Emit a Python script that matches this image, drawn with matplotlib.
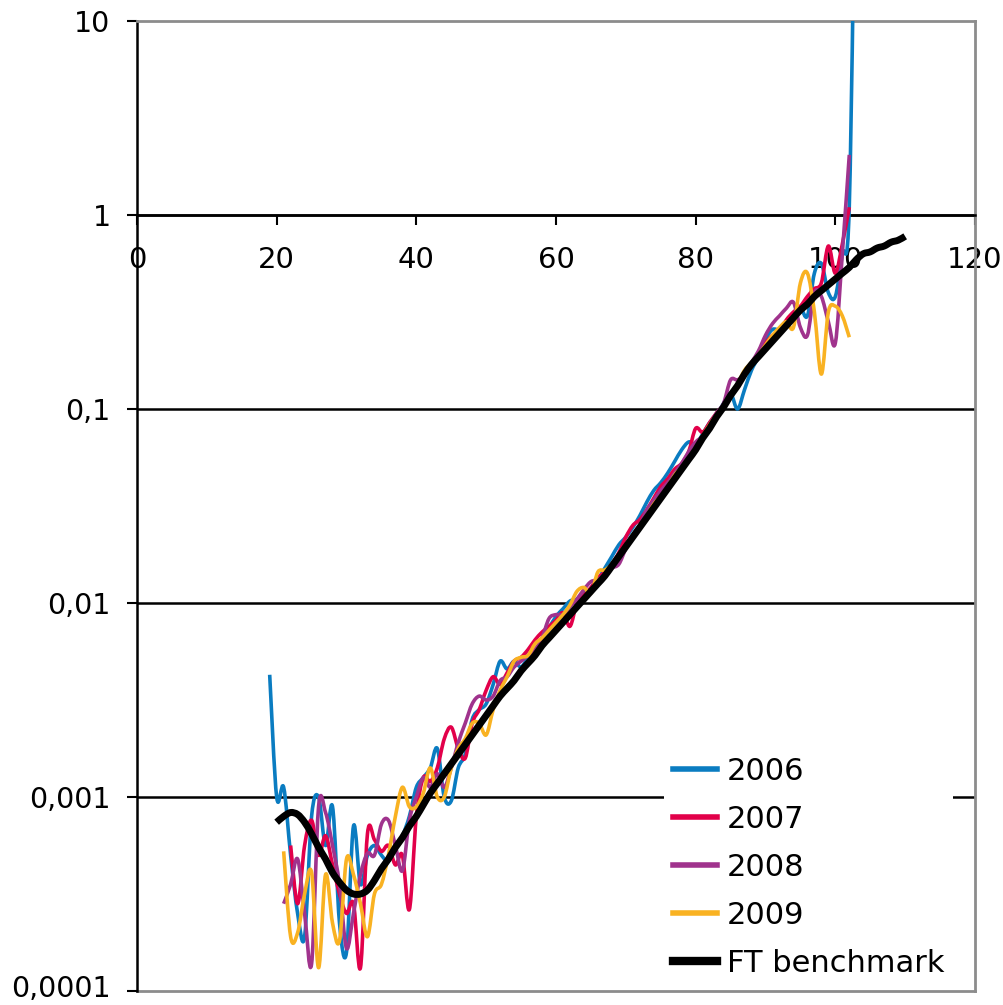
import numpy as np
import matplotlib
matplotlib.use("Agg")
import matplotlib.pyplot as plt
import matplotlib.transforms as mtransforms
from matplotlib.ticker import FixedLocator, FixedFormatter, NullLocator
from matplotlib.path import Path
from matplotlib.patches import PathPatch
from matplotlib.lines import Line2D

# ---- data (log10 of the plotted rate) ----
ages_2006 = list(range(19, 104))
log_2006 = [-2.37, -3.00, -2.95, -3.30, -3.60, -3.72, -3.10, -3.00, -3.25, -3.05,
            -3.65, -3.80, -3.15, -3.45, -3.30, -3.25, -3.30, -3.33, -3.25, -3.20,
            -3.10, -2.95, -2.90, -2.85, -2.75, -3.00, -3.02, -2.85, -2.78, -2.60,
            -2.55, -2.52, -2.42, -2.30, -2.34, -2.30, -2.33, -2.28, -2.24, -2.20,
            -2.13, -2.07, -2.03, -1.99, -1.98, -1.95, -1.93, -1.88, -1.82, -1.76,
            -1.70, -1.66, -1.61, -1.55, -1.48, -1.42, -1.38, -1.33, -1.27, -1.21,
            -1.17, -1.18, -1.13, -1.07, -1.03, -0.97, -0.92, -1.00, -0.90, -0.80,
            -0.73, -0.64, -0.59, -0.59, -0.55, -0.53, -0.48, -0.52, -0.30, -0.25,
            -0.40, -0.42, -0.20, 0.05, 2.30]

ages_2007 = list(range(22, 103))
log_2007 = [-3.25, -3.55, -3.25, -3.12, -3.30, -3.20, -3.35, -3.50, -3.60, -3.55,
            -3.88, -3.19, -3.22, -3.28, -3.25, -3.35, -3.30, -3.58, -3.10, -2.90,
            -2.92, -2.85, -2.70, -2.64, -2.75, -2.80, -2.62, -2.55, -2.45, -2.38,
            -2.42, -2.36, -2.30, -2.28, -2.24, -2.19, -2.15, -2.12, -2.09, -2.05,
            -2.12, -2.00, -1.96, -1.92, -1.87, -1.84, -1.80, -1.74, -1.66, -1.60,
            -1.57, -1.52, -1.46, -1.40, -1.36, -1.31, -1.28, -1.22, -1.10, -1.12,
            -1.07, -1.02, -0.98, -0.92, -0.89, -0.82, -0.77, -0.72, -0.66, -0.62,
            -0.60, -0.54, -0.50, -0.47, -0.42, -0.38, -0.35, -0.16, -0.30, -0.15,
            0.04]

ages_2008 = list(range(21, 103))
log_2008 = [-3.55, -3.45, -3.32, -3.60, -3.86, -3.05, -3.08, -3.25, -3.45, -3.78,
            -3.60, -3.40, -3.29, -3.30, -3.14, -3.12, -3.25, -3.38, -3.12, -3.00,
            -2.90, -2.95, -2.88, -2.95, -2.85, -2.72, -2.62, -2.52, -2.48, -2.50,
            -2.48, -2.40, -2.38, -2.33, -2.30, -2.27, -2.24, -2.18, -2.08, -2.06,
            -2.06, -2.02, -1.98, -1.93, -1.89, -1.88, -1.85, -1.82, -1.80, -1.72,
            -1.66, -1.60, -1.52, -1.47, -1.42, -1.38, -1.33, -1.28, -1.22, -1.17,
            -1.14, -1.08, -1.02, -0.97, -0.85, -0.85, -0.82, -0.76, -0.70, -0.62,
            -0.56, -0.52, -0.48, -0.45, -0.58, -0.62, -0.40, -0.42, -0.55, -0.66,
            -0.20, 0.31]

ages_2009 = list(range(21, 103))
log_2009 = [-3.28, -3.72, -3.70, -3.50, -3.39, -3.88, -3.40, -3.65, -3.74, -3.32,
            -3.40, -3.55, -3.72, -3.50, -3.45, -3.30, -3.10, -2.95, -3.05, -3.05,
            -2.98, -2.85, -3.00, -3.00, -2.85, -2.75, -2.70, -2.62, -2.62, -2.68,
            -2.55, -2.45, -2.38, -2.30, -2.28, -2.27, -2.21, -2.18, -2.14, -2.10,
            -2.06, -2.01, -1.94, -1.92, -1.95, -1.84, -1.83, -1.80, -1.75, -1.70,
            -1.65, -1.60, -1.55, -1.49, -1.45, -1.40, -1.34, -1.30, -1.25, -1.20,
            -1.14, -1.08, -1.03, -0.98, -0.93, -0.87, -0.80, -0.76, -0.72, -0.67,
            -0.62, -0.58, -0.55, -0.58, -0.35, -0.30, -0.50, -0.82, -0.50, -0.47,
            -0.52, -0.63]

ages_ft = list(range(20, 111))
log_ft = [-3.13, -3.10, -3.08, -3.09, -3.13, -3.19, -3.26, -3.32, -3.39, -3.44,
          -3.48, -3.50, -3.50, -3.48, -3.43, -3.37, -3.32, -3.26, -3.21, -3.15,
          -3.10, -3.04, -2.98, -2.93, -2.88, -2.83, -2.78, -2.73, -2.68, -2.63,
          -2.58, -2.53, -2.48, -2.44, -2.40, -2.35, -2.31, -2.27, -2.22, -2.18,
          -2.14, -2.10, -2.06, -2.02, -1.98, -1.94, -1.90, -1.86, -1.81, -1.76,
          -1.71, -1.66, -1.61, -1.56, -1.51, -1.46, -1.41, -1.36, -1.31, -1.26,
          -1.21, -1.15, -1.10, -1.04, -0.99, -0.93, -0.88, -0.82, -0.77, -0.73,
          -0.69, -0.65, -0.61, -0.57, -0.53, -0.49, -0.46, -0.42, -0.39, -0.36,
          -0.33, -0.30, -0.27, -0.23, -0.20, -0.19, -0.17, -0.16, -0.14, -0.13,
          -0.11]

series_names = ["2006", "2007", "2008", "2009", "FT benchmark"]
series_colors = ["#0A7CC1", "#E2004A", "#A0338D", "#F9B222", "#000000"]

x_ticks = [0, 20, 40, 60, 80, 100, 120]
y_ticks = [1e-4, 1e-3, 1e-2, 1e-1, 1, 10]
y_tick_labels = ["0,0001", "0,001", "0,01", "0,1", "1", "10"]


def smooth_path(xs, logs):
    """Smoothed (Excel-style) line through the data points, drawn as Bezier."""
    p = np.column_stack([np.asarray(xs, float), np.asarray(logs, float)])
    n = len(p)
    verts = [p[0]]
    codes = [Path.MOVETO]
    for i in range(n - 1):
        p0 = p[i - 1] if i > 0 else p[i]
        p1 = p[i]
        p2 = p[i + 1]
        p3 = p[i + 2] if i + 2 < n else p[i + 1]
        c1 = p1 + (p2 - p0) / 6.0
        c2 = p2 - (p3 - p1) / 6.0
        verts += [c1, c2, p2]
        codes += [Path.CURVE4] * 3
    v = np.array(verts)
    v[:, 1] = 10 ** v[:, 1]
    return Path(v, codes)


# ---- figure ----
plt.rcParams['font.family'] = ['DejaVu Sans']
fig = plt.figure(figsize=(10.04, 10.05), dpi=100)
ax = fig.add_axes([137 / 1004, 1 - 991 / 1005, (975 - 137) / 1004, (991 - 21) / 1005])

ax.set_yscale('log')
ax.set_xlim(0, 120)
ax.set_ylim(1e-4, 10)

# gridlines
for yv in y_ticks[1:-1]:
    ax.axhline(yv, color='black', lw=1.8, zorder=1)
ax.axhline(1e-4, color='#8c8c8c', lw=2.0, zorder=1, clip_on=False)

data = [(ages_2006, log_2006), (ages_2007, log_2007), (ages_2008, log_2008),
        (ages_2009, log_2009), (ages_ft, log_ft)]
widths = [2.6, 2.6, 2.6, 2.6, 5.0]
handles = []
for (ag, lg), name, col, w in zip(data, series_names, series_colors, widths):
    patch = PathPatch(smooth_path(ag, lg), facecolor='none', edgecolor=col,
                      lw=w, zorder=3 if w < 4 else 4, joinstyle='round',
                      capstyle='butt')
    ax.add_patch(patch)
    handles.append(Line2D([], [], color=col, lw=4.0 if w < 4 else 6.0, label=name))

# spines
ax.spines['bottom'].set_position(('data', 1))
ax.spines['bottom'].set_color('black')
ax.spines['bottom'].set_linewidth(1.8)
ax.spines['left'].set_color('black')
ax.spines['left'].set_linewidth(1.8)
for s in ('top', 'right'):
    ax.spines[s].set_color('#8c8c8c')
    ax.spines[s].set_linewidth(2.0)

ax.xaxis.set_major_locator(FixedLocator(x_ticks))
ax.xaxis.set_minor_locator(NullLocator())
ax.yaxis.set_major_locator(FixedLocator(y_ticks))
ax.yaxis.set_major_formatter(FixedFormatter(y_tick_labels))
ax.yaxis.set_minor_locator(NullLocator())

ax.tick_params(axis='x', direction='out', length=7, width=1.5, pad=15,
               labelsize=21, colors='black')
ax.tick_params(axis='y', direction='out', length=7, width=1.5, pad=12,
               labelsize=20.5, colors='black')

# nudge the lowest y label up slightly so it stays inside the image
fig.canvas.draw()
lowest = ax.yaxis.get_major_ticks()[0].label1
lowest.set_transform(lowest.get_transform() +
                     mtransforms.ScaledTranslation(0, 5 / 100, fig.dpi_scale_trans))

leg = ax.legend(handles=handles, loc='lower left',
                bbox_to_anchor=(664 / 1004, 1 - 987 / 1005),
                bbox_transform=fig.transFigure, fontsize=22, frameon=True,
                fancybox=False, edgecolor='none', facecolor='white',
                framealpha=1.0, borderaxespad=0, borderpad=0.3,
                handlelength=1.45, handletextpad=0.3, labelspacing=0.62)
leg.set_zorder(5)

fig.savefig("out.png", dpi=100, facecolor='white')
